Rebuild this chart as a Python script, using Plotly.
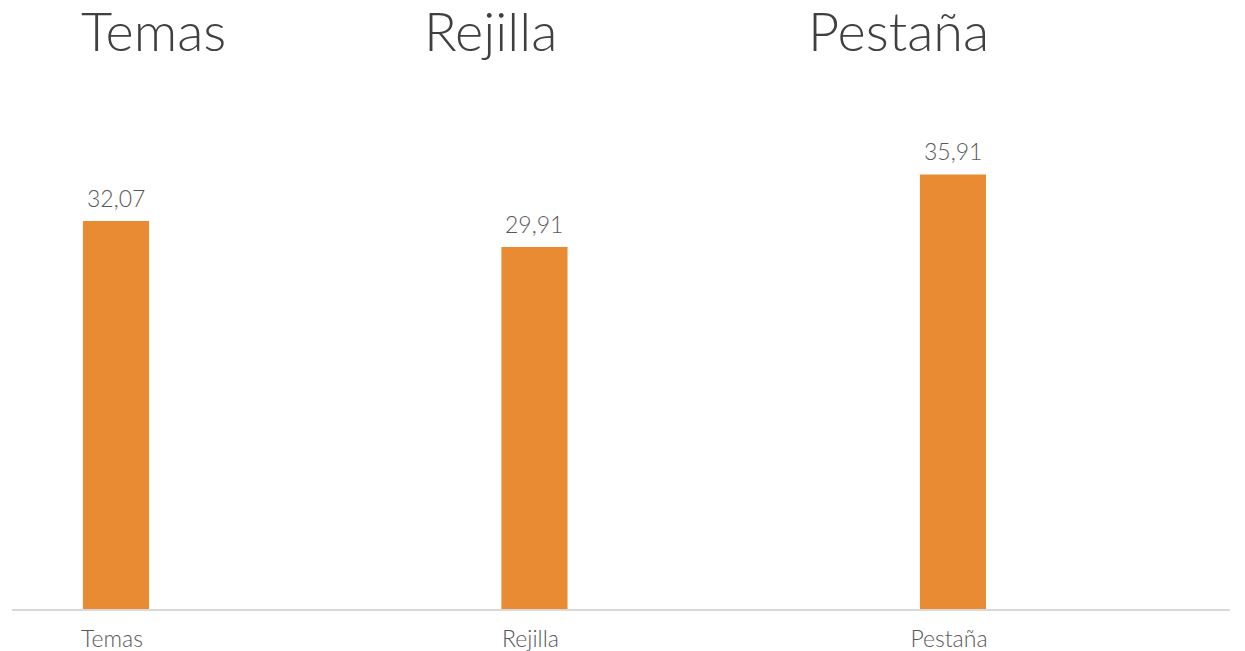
import plotly.graph_objects as go

categories = ["Temas", "Rejilla", "Pestaña"]
values = [32.07, 29.91, 35.91]
value_labels = ["32,07", "29,91", "35,91"]

bar_color = "#E98B33"
font_family = "Lato"

x = list(range(len(categories)))

fig = go.Figure()
fig.add_trace(go.Bar(
    x=x,
    y=values,
    width=0.158,
    marker_color=bar_color,
    marker_line_width=0,
    hoverinfo="skip",
))

# value labels above the bars
for xi, v, lab in zip(x, values, value_labels):
    fig.add_annotation(
        x=xi, y=v, text=lab, showarrow=False,
        yanchor="bottom", yshift=7,
        font=dict(family=font_family, size=23, color="#595959", weight=300),
    )

# big headings above each bar
title_pos = [(0.055, "left"), (0.4491, "right"), (0.8038, "right")]
for cat, (px, anchor) in zip(categories, title_pos):
    fig.add_annotation(
        text=cat, xref="paper", yref="paper", x=px, y=1.196,
        xanchor=anchor, yanchor="middle", showarrow=False,
        font=dict(family=font_family, size=54, color="#404040", weight=300),
    )

fig.update_layout(
    width=1237,
    height=643,
    margin=dict(l=4, r=15, t=117, b=42, autoexpand=False),
    paper_bgcolor="white",
    plot_bgcolor="white",
    showlegend=False,
    xaxis=dict(
        range=[-0.2485, 2.662],
        tickvals=x,
        ticktext=categories,
        showgrid=False,
        zeroline=False,
        showline=True,
        linecolor="#D9D9D9",
        linewidth=2,
        ticks="",
        automargin=False,
        ticklabelstandoff=8,
        ticklabelshift=-4,
        tickfont=dict(family=font_family, size=23, color="#595959", weight=300),
    ),
    yaxis=dict(
        range=[0, 40],
        visible=False,
        showgrid=False,
        automargin=False,
    ),
)

fig.write_html("out.html")
